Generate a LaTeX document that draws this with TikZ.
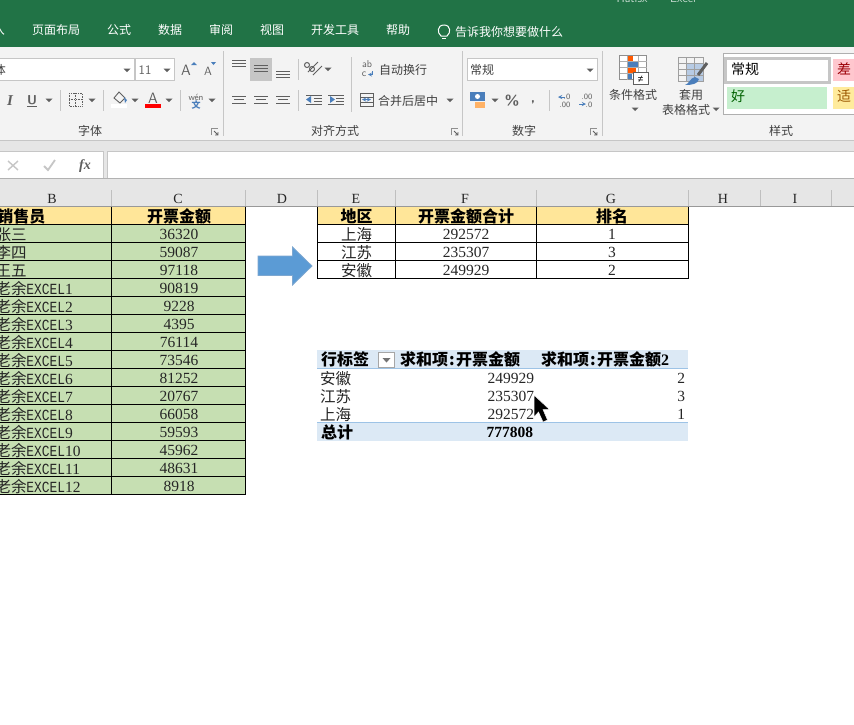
\documentclass[tikz,border=0pt]{standalone}
\usepackage{fontspec}
\setmainfont{Liberation Serif}
\newfontfamily\cjk{Noto Sans CJK SC}
\newfontfamily\mono{Liberation Mono}
\newfontfamily\monox[FakeStretch=0.833]{Liberation Mono}
\newcommand{\fsz}[1]{\fontsize{#1}{#1}\selectfont}
\newcommand{\LY}[1]{{\cjk 老余}{\fsz{15.5}\monox EXCEL}#1}
\newcommand{\cln}{\makebox[8pt]{:}}
\definecolor{xlgreen}{HTML}{217346}
\definecolor{rib}{HTML}{F3F3F3}
\definecolor{band}{HTML}{E6E6E6}
\definecolor{sep}{HTML}{C6C6C6}
\definecolor{icon}{HTML}{5F5F5F}
\definecolor{hdr}{HTML}{FFE699}
\definecolor{cellg}{HTML}{C6DFB2}
\definecolor{piv}{HTML}{DCE9F5}
\definecolor{pivl}{HTML}{9DC3E6}
\definecolor{blueic}{HTML}{4A7EBB}
\definecolor{HTMLbad}{HTML}{FFC7CE}
\definecolor{HTMLgood}{HTML}{C6EFCE}
\definecolor{HTMLneutral}{HTML}{FFEB9C}
\definecolor{HTMLbadt}{HTML}{9C0006}
\definecolor{HTMLgoodt}{HTML}{006100}
\definecolor{HTMLneutralt}{HTML}{9C5700}
\definecolor{HTMLarrow}{HTML}{5B9BD5}
\definecolor{HTMLarrowd}{HTML}{7DA7D0}
\tikzset{
  txt/.style={inner sep=0pt,outer sep=0pt,font=\cjk\fsz{15.5},text=black,anchor=base},
  tab/.style={txt,font=\cjk\fsz{12},text=white},
  rb/.style={txt,font=\cjk\fsz{12},text=black!75},
  hd/.style={txt,font=\rmfamily\fsz{14},text=black!85},
  num/.style={txt,font=\fsz{15.5}\rmfamily,text=black!85},
  bnum/.style={txt,font=\fsz{15.5}\rmfamily\bfseries},
  bcjk/.style={txt,font=\cjk\bfseries\fsz{16}},
  drop/.style={fill=icon,draw=none},
  div/.style={draw=sep,line width=1pt},
  lines/.style={draw=icon,line width=0.9pt},
  grid/.style={draw=black,line width=1pt},
}
\newcommand{\dropat}[2]{\fill[drop] (#1-3.5,#2-1.5) -- (#1+3.5,#2-1.5) -- (#1,#2+2) -- cycle;}
\newcommand{\launch}[2]{\draw[icon!70,line width=.7pt] (#1-4,#2+3) -- (#1-4,#2-4) -- (#1+3,#2-4); \draw[icon,line width=.8pt] (#1-1,#2-1) -- (#1+3,#2+3) (#1+3,#2) -- (#1+3,#2+3) -- (#1,#2+3);}
\begin{document}
\begin{tikzpicture}[x=1pt,y=-1pt]
\useasboundingbox (0,0) rectangle (854,724);
\clip (0,0) rectangle (854,724);
\fill[white] (0,0) rectangle (854,724);
% title and tabs
\fill[xlgreen] (0,0) rectangle (854,47);
\node[txt,font=\fsz{12}\sffamily,text=white!75!xlgreen] (fname) at (632,2) {Hatisx};
\node[txt,font=\fsz{12}\sffamily,text=white!75!xlgreen] (xl) at (683,2) {Excel};
\node[tab] (t0) at (-1,34.5) {入};
\foreach \x/\s [count=\k] in {56/页面布局,119/公式,170/数据,221/审阅,272/视图,335/开发工具,398/帮助}
  \node[tab] (t\k) at (\x,34.5) {\s};
\node[tab,anchor=base west] (tell) at (455,36) {告诉我你想要做什么};
\draw[white,line width=1pt] (441,36) .. controls (437,33) and (437,25) .. (444,25) .. controls (451,25) and (451,33) .. (447,36) -- cycle;
\draw[white,line width=1pt] (442,38) -- (446,38);
% ribbon
\fill[rib] (0,47) rectangle (854,140);
\draw[sep,line width=1pt] (0,140.5) -- (854,140.5);
\fill[band] (0,141) rectangle (854,207);
\foreach \x in {223.5,462.5,602.5} \draw[sep,line width=.8pt] (\x,51) -- (\x,136);
% font group
\draw[sep,fill=white,line width=1pt] (-2,58.5) rectangle (134.5,80.5);
\draw[sep,fill=white,line width=1pt] (135.5,58.5) rectangle (174.5,80.5);
\node[rb] (fontn) at (0,74) {体};
\dropat{127}{70}\dropat{167}{70}
\node[rb,font=\fsz{13}\sffamily,text=icon] (fsize) at (145,74.5) {11};
\node[rb,font=\fsz{15}\sffamily,text=icon] (grow) at (186,75) {A};
\node[rb,font=\fsz{12}\sffamily,text=icon] (shr) at (208,75) {A};
\fill[blueic] (191,65) -- (194,62) -- (197,65) -- cycle;
\fill[blueic] (211,62) -- (216,62) -- (213.5,65) -- cycle;
\node[rb,font=\fsz{15}\rmfamily\itshape\bfseries,text=icon] (ital) at (10,105) {I};
\node[rb,font=\fsz{13}\sffamily\bfseries,text=icon] (und) at (32,104) {U};
\draw[icon,line width=1pt] (27,106) -- (37,106);
\dropat{49}{100}
\draw[div] (60.5,90) -- (60.5,111);
\draw[icon,densely dotted,line width=.7pt] (69,93) rectangle (82,106) (75.5,93) -- (75.5,106) (69,99.5) -- (82,99.5);
\dropat{92}{100}
\draw[div] (103.5,90) -- (103.5,111);
\fill[white] (111,104) rectangle (127,108);
\draw[icon,line width=.9pt] (114,98) -- (119,92) -- (125,98) -- (120,103) -- cycle;
\fill[blueic] (124,97) -- (127,100) -- (125,103) -- cycle;
\dropat{135}{100}
\node[rb,font=\fsz{15}\sffamily,text=icon] (acol) at (153,103) {A};
\fill[red] (145,104) rectangle (161,108);
\dropat{169}{100}
\draw[div] (180.5,90) -- (180.5,111);
\node[rb,font=\fsz{9}\sffamily,text=icon] (wen) at (196,100) {wén};
\node[rb,font=\cjk\bfseries\fsz{9},text=blueic] (wen2) at (196,108) {文};
\dropat{212}{100}
\node[rb] (g1) at (90,135) {字体};
\launch{215}{132}
% alignment group
\fill[sep] (250,58) rectangle (272,81);
\foreach \x/\y in {232/60,254/65,276/71} {
  \draw[lines] (\x,\y) -- (\x+14,\y) (\x,\y+3) -- (\x+14,\y+3) (\x,\y+6) -- (\x+14,\y+6);
}
\draw[div] (298.5,59) -- (298.5,80);
\draw[icon,line width=1pt] (308,72) -- (318,62) (313,75) -- (322,66);
\draw[icon,line width=1pt] (307,65) circle (2.5) (312,69) circle (2.5);
\dropat{328}{69}
\draw[div] (351.5,57) -- (351.5,112);
\node[rb,font=\fsz{10}\sffamily,text=icon] (ab) at (367,67) {ab};
\node[rb,font=\fsz{10}\sffamily,text=icon] (cc) at (364,76) {c};
\draw[blueic,line width=.8pt,->,>=stealth] (372,71) -- (372,74.5) -- (368,74.5);
\node[rb,anchor=base west] (wrap) at (379,74) {自动换行};
\foreach \x in {232,254,276} {
  \draw[lines] (\x,96) -- (\x+14,96) (\x+2,99.5) -- (\x+12,99.5) (\x,103) -- (\x+14,103);
}
\draw[div] (298.5,90) -- (298.5,111);
\foreach \x in {306,328} \draw[lines] (\x,95) -- (\x+16,95) (\x+8,98) -- (\x+16,98) (\x+8,101) -- (\x+16,101) (\x,104) -- (\x+16,104);
\fill[blueic] (306,99.5) -- (311,96) -- (311,103) -- cycle;
\fill[blueic] (335,99.5) -- (330,96) -- (330,103) -- cycle;
\draw[icon,line width=1pt] (360,93) rectangle (373,106) (360,97) -- (373,97) (360,102) -- (373,102);
\draw[blueic,line width=.9pt,<->,>=stealth] (362,99.5) -- (371,99.5);
\node[rb,anchor=base west] (merge) at (378,105) {合并后居中};
\dropat{450}{100}
\node[rb] (g2) at (335,135) {对齐方式};
\launch{455}{132}
% number group
\draw[sep,fill=white,line width=1pt] (467.5,58.5) rectangle (597.5,80.5);
\node[rb,anchor=base west] (numf) at (470,74) {常规};
\dropat{590}{70}
\fill[blueic] (470,92) rectangle (485,101);
\fill[white] (477.5,96.5) circle (2.5);
\fill[orange!60] (475,102) rectangle (485,108);
\dropat{495}{100}
\node[rb,font=\fsz{14}\sffamily\bfseries,text=icon] (pct) at (512,105) {\%};
\node[rb,font=\fsz{14}\sffamily\bfseries,text=icon] (comma) at (533,102) {,};
\draw[div] (549.5,90) -- (549.5,111);
\node[rb,font=\fsz{8}\sffamily,text=icon] (d1) at (567,99) {.0};
\node[rb,font=\fsz{8}\sffamily,text=icon] (d2) at (565,107) {.00};
\node[rb,font=\fsz{8}\sffamily,text=icon] (d3) at (587,99) {.00};
\node[rb,font=\fsz{8}\sffamily,text=icon] (d4) at (589,107) {.0};
\draw[blueic,line width=.9pt,->,>=stealth] (565,97) -- (558,97);
\draw[blueic,line width=.9pt,->,>=stealth] (579,104) -- (586,104) ;
\node[rb] (g3) at (524,135) {数字};
\launch{594}{132}
% conditional format
\draw[icon!70,fill=white,line width=.8pt] (619.5,55.5) rectangle (646.5,79.5);
\fill[orange!70!red] (627,56) rectangle (633,61);
\fill[blueic] (627,61) rectangle (638,67);
\fill[orange!70!red] (627,67) rectangle (636,73);
\fill[blueic] (627,73) rectangle (632,79);
\draw[icon!50,line width=.6pt] (619.5,61) -- (646.5,61) (619.5,67) -- (646.5,67) (619.5,73) -- (646.5,73) (627,55.5) -- (627,79.5) (638,55.5) -- (638,79.5);
\draw[icon,fill=white,line width=.8pt] (633,72.5) rectangle (648.5,84.5);
\node[rb,font=\fsz{10}\mono,text=black] (ne) at (640.5,82) {≠};
\node[rb] (cf) at (633,99) {条件格式};
\dropat{635}{109}
% table style
\fill[blueic!40] (686,63) rectangle (704,81);
\draw[icon!60,line width=.7pt] (678.5,57.5) rectangle (703,81) (678.5,63.5) -- (703,63.5) (678.5,69.5) -- (703,69.5) (678.5,75.5) -- (703,75.5) (686.5,57.5) -- (686.5,81) (694.5,57.5) -- (694.5,81);
\draw[icon,line width=3pt] (698,75) -- (707,63);
\fill[blueic] (685,85) .. controls (689,84) and (690,78) .. (695,77) -- (699,79) .. controls (698,84) and (692,85) .. cycle;
\node[rb] (ts1) at (691,99) {套用};
\node[rb] (ts2) at (686,114) {表格格式};
\dropat{716}{109}
% gallery
\draw[icon!50,fill=white,line width=1pt] (723.5,53.5) rectangle (860,114.5);
\draw[sep,fill=white,line width=3pt] (725.5,58) rectangle (829.5,82);
\fill[HTMLbad] (833,59) rectangle (856,81);
\fill[HTMLgood] (727,87) rectangle (827,109);
\fill[HTMLneutral] (833,87) rectangle (856,109);
\node[txt,anchor=base west,font=\cjk\fsz{14}] (s1) at (731,74) {常规};
\node[txt,anchor=base west,font=\cjk\fsz{14},text=HTMLbadt] (s2) at (837,74) {差};
\node[txt,anchor=base west,font=\cjk\fsz{14},text=HTMLgoodt] (s3) at (731,101) {好};
\node[txt,anchor=base west,font=\cjk\fsz{14},text=HTMLneutralt] (s4) at (837,101) {适};
\node[rb] (g4) at (781,135) {样式};
% formula bar
\draw[sep,fill=white,line width=1pt] (-2,151.5) rectangle (103,178);
\draw[sep,fill=white,line width=1pt] (107.5,151.5) rectangle (860,178);
\draw[sep,line width=1.4pt] (8,161) -- (18,170) (18,161) -- (8,170);
\draw[sep,line width=1.8pt] (44,166) -- (48,170) -- (55,160);
\node[rb,font=\fsz{14}\rmfamily\itshape\bfseries,text=icon] (fx) at (85,169) {fx};
% column headers
\draw[sep!90!black,line width=1pt] (0,178.5) -- (854,178.5);
\draw[black!40,line width=1pt] (0,206.5) -- (854,206.5);
\foreach \x in {111.5,245.5,317.5,395.5,536.5,688,760,831.5} \draw[black!25,line width=1pt] (\x,190) -- (\x,206);
\foreach \x/\s in {52/B,178/C,282/D,356/E,465/F,611/G,723/H,795/I}
  \node[hd] (h\s) at (\x,203) {\s};
% left table
\fill[hdr] (0,206.5) rectangle (245.5,224.5);
\fill[cellg] (0,224.5) rectangle (245.5,494.5);
\foreach \i in {0,...,15} \draw[grid] (0,224.5+18*\i) -- (245.5,224.5+18*\i);
\draw[grid] (111.5,206.5) -- (111.5,494.5) (245.5,206.5) -- (245.5,494.5);
\node[bcjk,anchor=base west] (bh) at (-2.5,222) {销售员};
\node[bcjk] (ch) at (179,222) {开票金额};
\foreach \n/\v [count=\k] in {{\cjk 张三}/36320,{\cjk 李四}/59087,{\cjk 王五}/97118,\LY{1}/90819,\LY{2}/9228,\LY{3}/4395,\LY{4}/76114,\LY{5}/73546,\LY{6}/81252,\LY{7}/20767,\LY{8}/66058,\LY{9}/59593,\LY{10}/45962,\LY{11}/48631,\LY{12}/8918} {
  \node[num,anchor=base west] (nm\k) at (-4.5,{224.5+18*(\k-1)+15.5}) {\n};
  \node[num] (vl\k) at (179,{224.5+18*(\k-1)+15}) {\v};
}
% arrow
\draw[fill=HTMLarrow,draw=HTMLarrowd,line width=.8pt] (258,256) -- (292.5,256) -- (292.5,247) -- (312,266) -- (292.5,285) -- (292.5,275.5) -- (258,275.5) -- cycle;
% right table
\fill[hdr] (317.5,206.5) rectangle (688,224.5);
\foreach \y in {224.5,242.5,260.5,278.5} \draw[grid] (317.5,\y) -- (688,\y);
\foreach \x in {317.5,395.5,536.5,688} \draw[grid] (\x,206.5) -- (\x,278.5);
\node[bcjk] (eh) at (356.5,222) {地区};
\node[bcjk] (fh) at (466,222) {开票金额合计};
\node[bcjk] (gh) at (612,222) {排名};
\foreach \a/\b/\c [count=\k] in {上海/292572/1,江苏/235307/3,安徽/249929/2} {
  \node[txt,text=black!85] (re\k) at (356.5,{224.5+18*(\k-1)+15.5}) {\a};
  \node[num] (rf\k) at (466,{224.5+18*(\k-1)+15}) {\b};
  \node[num] (rg\k) at (612,{224.5+18*(\k-1)+15}) {\c};
}
% pivot
\fill[piv] (317,350) rectangle (688,368);
\fill[piv] (317,422) rectangle (688,441);
\draw[pivl,line width=1pt] (317,368.5) -- (688,368.5) (317,422.5) -- (688,422.5);
\node[bcjk,anchor=base west] (ph1) at (321,365.5) {行标签};
\draw[black!35,fill=white,line width=.8pt] (378.5,352.5) rectangle (394.5,367);
\fill[black!55] (382.5,358) -- (390.5,358) -- (386.5,362.5) -- cycle;
\node[bcjk,anchor=base west] (ph2) at (400,365.5) {求和项\cln 开票金额};
\node[bcjk,anchor=base west] (ph3) at (541,365.5) {求和项\cln 开票金额{\rmfamily\bfseries 2}};
\foreach \a/\b/\c [count=\k] in {安徽/249929/2,江苏/235307/3,上海/292572/1} {
  \node[txt,anchor=base west,text=black!85] (pa\k) at (320,{368.5+18*(\k-1)+15.5}) {\a};
  \node[num,anchor=base east] (pb\k) at (534,{368.5+18*(\k-1)+15}) {\b};
  \node[num,anchor=base east] (pc\k) at (685,{368.5+18*(\k-1)+15}) {\c};
}
\node[bcjk,anchor=base west] (pt) at (321,438) {总计};
\node[bnum,anchor=base east] (ptv) at (533,437) {777808};
% cursor
\fill[black,draw=white,line width=.5pt] (534,395) -- (534,417) -- (538.5,412) -- (543,422) -- (547.5,420) -- (543,409.5) -- (549.5,409.5) -- cycle;
\end{tikzpicture}
\end{document}
